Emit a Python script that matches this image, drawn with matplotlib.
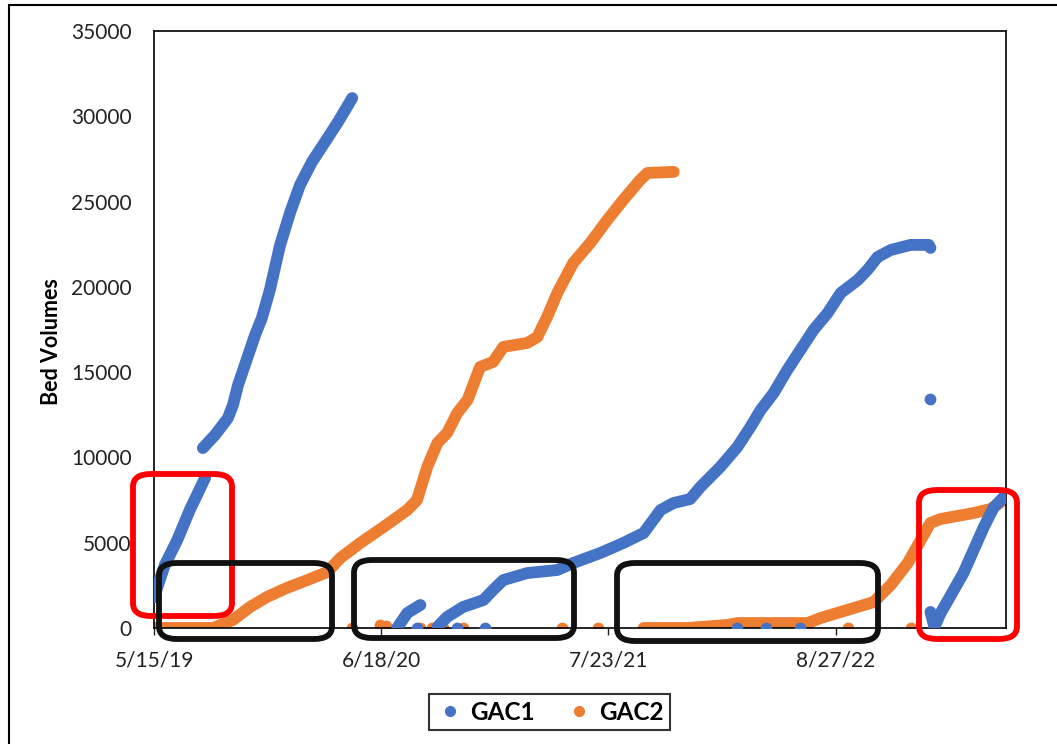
import numpy as np
import matplotlib
matplotlib.use("Agg")
import matplotlib.pyplot as plt
import matplotlib.dates as mdates
from matplotlib.patches import FancyBboxPatch, Rectangle
from matplotlib.lines import Line2D
from matplotlib.ticker import FuncFormatter

plt.rcParams['font.family'] = ['Lato', 'DejaVu Sans']

# days since 5/15/19 and bed volumes
start = np.datetime64('2019-05-15')

gac1_a_days = [0, 19, 41, 63, 90]
gac1_a_bv = [1800, 3690, 5160, 6920, 8800]

gac1_b_days = [86, 107, 130, 139, 148, 160, 178, 190, 204, 222, 240, 257, 278, 301, 324, 349]
gac1_b_bv = [10550, 11300, 12300, 13070, 14250, 15420, 17180, 18180, 19820, 22450,
             24390, 25970, 27320, 28490, 29670, 31070]

gac1_c_days = [428, 446, 469]
gac1_c_bv = [0, 880, 1350]

gac1_d_days = [499, 516, 544, 580, 597, 615, 657, 710, 738, 786, 826, 862, 892, 915, 944,
               962, 997, 1027, 1050, 1068, 1091, 1115, 1138, 1161, 1186, 1209, 1239, 1256,
               1274, 1297, 1332, 1364, 1367]
gac1_d_bv = [60, 645, 1230, 1640, 2230, 2810, 3220, 3400, 3810, 4400, 4980, 5570, 6920, 7330,
             7560, 8270, 9440, 10610, 11780, 12780, 13780, 15130, 16300, 17470, 18470, 19640,
             20400, 20990, 21750, 22160, 22460, 22460, 22280]

gac1_e_days = [1367, 1374, 1385, 1403, 1425, 1443, 1461, 1478, 1496]
gac1_e_bv = [940, 60, 880, 1930, 3220, 4570, 5920, 7040, 7680]

gac1_pts_days = [463, 534, 583, 1027, 1077, 1138, 1367]
gac1_pts_bv = [0, 0, 0, 0, 0, 0, 13400]

gac2_a_days = [0, 104, 139, 169, 199, 234, 270, 305, 328, 363, 404, 446, 463, 481, 499, 516,
               534, 552, 574, 597, 615, 657, 675, 692, 710, 738, 768, 798, 826, 856, 869, 915]
gac2_a_bv = [0, 0, 470, 1230, 1820, 2350, 2810, 3280, 4100, 4980, 5920, 6920, 7500, 9440,
             10850, 11430, 12610, 13370, 15300, 15600, 16480, 16710, 17060, 18230, 19640,
             21400, 22570, 23920, 25090, 26270, 26680, 26740]

gac2_b_days = [862, 939, 1010, 1027, 1151, 1174, 1221, 1267, 1297, 1327, 1350, 1367, 1385,
               1443, 1473, 1496]
gac2_b_bv = [0, 0, 180, 290, 290, 590, 1060, 1520, 2520, 3810, 5160, 6160, 6390, 6740,
             6980, 7500]

gac2_pts_days = [349, 398, 409, 469, 490, 509, 544, 719, 781, 1221, 1332]
gac2_pts_bv = [0, 150, 100, 0, 0, 0, 0, 0, 0, 0, 0]

blue = '#4472C4'
orange = '#ED7D31'

def to_dates(days):
    return start + np.array(days).astype('timedelta64[D]')

W, H = 1057, 744
fig = plt.figure(figsize=(W / 100, H / 100), dpi=100)
ax = fig.add_axes([154 / W, 1 - 628 / H, (1006 - 154) / W, (628 - 31) / H])

lw = 8.5
for d, v in [(gac2_a_days, gac2_a_bv), (gac2_b_days, gac2_b_bv)]:
    ax.plot(to_dates(d), v, color=orange, lw=lw, solid_capstyle='round',
            solid_joinstyle='round', zorder=2)
ax.scatter(to_dates(gac2_pts_days), gac2_pts_bv, s=72, color=orange, lw=0, zorder=2)

for d, v in [(gac1_a_days, gac1_a_bv), (gac1_b_days, gac1_b_bv), (gac1_c_days, gac1_c_bv),
             (gac1_d_days, gac1_d_bv), (gac1_e_days, gac1_e_bv)]:
    ax.plot(to_dates(d), v, color=blue, lw=lw, solid_capstyle='round',
            solid_joinstyle='round', zorder=3)
ax.scatter(to_dates(gac1_pts_days), gac1_pts_bv, s=72, color=blue, lw=0, zorder=3)

ax.set_xlim(start, start + np.timedelta64(1500, 'D'))
ax.set_ylim(0, 35000)
ax.set_yticks(np.arange(0, 35001, 5000))
ax.set_xticks(to_dates([0, 400, 800, 1200]))

def fmt_date(x, pos):
    d = mdates.num2date(x)
    return f"{d.month}/{d.day}/{d.year % 100}"

ax.xaxis.set_major_formatter(FuncFormatter(fmt_date))
ax.tick_params(axis='x', direction='out', length=5, width=1, pad=11, labelsize=15, colors='#222222')
ax.tick_params(axis='y', length=0, pad=16, labelsize=15, colors='#222222')
for s in ax.spines.values():
    s.set_linewidth(1.2)
    s.set_color('black')

ax.set_ylabel('Bed Volumes', fontsize=15.5, fontweight='bold')
ax.yaxis.set_label_coords(-0.108, 0.48)

# annotation boxes (image pixel coords: left, top, right, bottom)
boxes = [((133, 474, 232, 616), 'red'),
         ((159, 563, 332, 639), '#111111'),
         ((354, 560, 574, 638), '#111111'),
         ((617, 563, 878, 641), '#111111'),
         ((919, 490, 1017, 639), 'red')]
for (l, t, r, b), c in boxes:
    p = FancyBboxPatch((l / W, 1 - b / H), (r - l) / W, (b - t) / H,
                       boxstyle='round,pad=0,rounding_size=0.017',
                       transform=fig.transFigure, fill=False, edgecolor=c,
                       lw=4.2, zorder=10)
    fig.add_artist(p)

# outer border
fig.add_artist(Rectangle((9 / W, -0.1), 1.2, 1.1 - 5 / H, transform=fig.transFigure,
                         fill=False, edgecolor='black', lw=1.5))

handles = [Line2D([], [], ls='none', marker='o', ms=7, color=blue, label='GAC1'),
           Line2D([], [], ls='none', marker='o', ms=7, color=orange, label='GAC2')]
leg = fig.legend(handles=handles, loc='center', bbox_to_anchor=(549.5 / W, 1 - 712 / H),
                 ncol=2, frameon=True, fancybox=False, edgecolor='black',
                 prop={'weight': 'bold', 'size': 17.5}, handletextpad=0.25,
                 columnspacing=1.2, borderpad=0.25, handlelength=1.2)
leg.get_frame().set_linewidth(1.5)

fig.savefig('out.png', dpi=100)
